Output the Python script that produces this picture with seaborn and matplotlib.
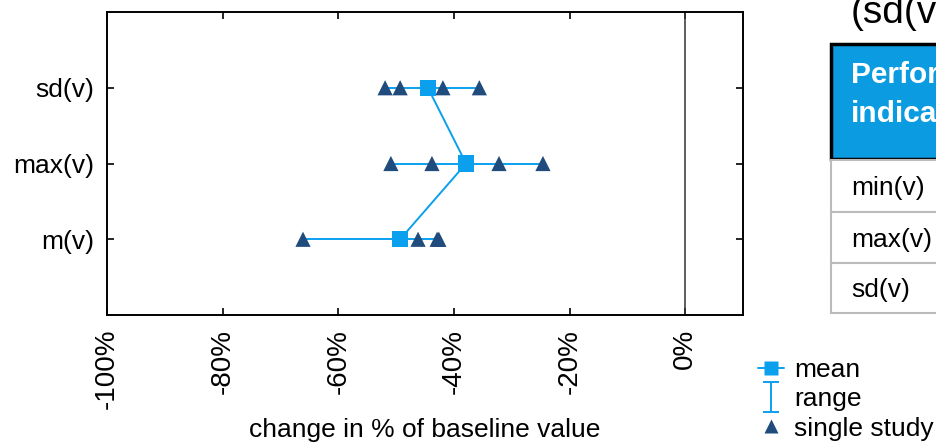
import numpy as np
import pandas as pd
import matplotlib
matplotlib.use("Agg")
import matplotlib.pyplot as plt
from matplotlib.lines import Line2D
from matplotlib.patches import Rectangle
from matplotlib.path import Path
import seaborn as sns

# data (change in % of baseline)
indicators = ["m(v)", "max(v)", "sd(v)"]
ypos = [1, 2, 3]
mean_vals = [-49.3, -37.9, -44.5]
range_min = [-66.1, -50.9, -51.9]
range_max = [-42.6, -24.6, -35.6]
study_m = [-66.1, -46.2, -42.9, -42.6]
study_max = [-50.9, -43.8, -32.2, -24.6]
study_sd = [-51.9, -49.3, -41.9, -35.6]
xticks = [-100, -80, -60, -40, -20, 0]
table_rows = ["min(v)", "max(v)", "sd(v)"]

light_blue = "#0aa0ee"
navy = "#1f4b7d"

sns.set_theme(style="ticks")
plt.rcParams["font.family"] = ["Liberation Sans", "DejaVu Sans"]

studies = pd.DataFrame({
    "change": study_m + study_max + study_sd,
    "pos": [1] * 4 + [2] * 4 + [3] * 4,
})
means = pd.DataFrame({"change": mean_vals, "pos": ypos})

fig = plt.figure(figsize=(9.36, 4.48), dpi=100)
ax = fig.add_axes([107 / 936, 1 - 315 / 448, 636 / 936, 303 / 448])

ax.axvline(0, color="#333333", lw=1.1, zorder=1)

# range bars
xerr = [np.array(mean_vals) - np.array(range_min),
        np.array(range_max) - np.array(mean_vals)]
ax.errorbar(mean_vals, ypos, xerr=xerr, fmt="none", ecolor=light_blue,
            elinewidth=1.4, capsize=3, capthick=1.4, zorder=2)

# line through the means (sd -> max -> m)
order = means.sort_values("pos", ascending=False)
sns.lineplot(data=order, x="change", y="pos", sort=False, color=light_blue,
             lw=1.4, ax=ax, zorder=3)

sns.scatterplot(data=studies, x="change", y="pos", marker="^", s=120,
                color=navy, edgecolor="none", ax=ax, zorder=4)
sns.scatterplot(data=means, x="change", y="pos", marker="s", s=140,
                color=light_blue, edgecolor="none", ax=ax, zorder=5)

ax.set_xlim(-100, 10)
ax.set_ylim(0, 4)
ax.set_xticks(xticks)
ax.set_xticklabels([f"{t}%" for t in xticks], rotation=90, fontsize=20)
ax.set_yticks(ypos)
ax.set_yticklabels(indicators, fontsize=19)
ax.tick_params(direction="in", length=5, width=1.2, top=True, right=True,
               color="black", labelcolor="black")
ax.tick_params(axis="y", pad=9)
ax.tick_params(axis="x", pad=10)
ax.set_xlabel("change in % of baseline value", fontsize=19, labelpad=6,
              color="black")
ax.set_ylabel("")
for sp in ax.spines.values():
    sp.set_color("black")
    sp.set_linewidth(1.4)

# legend
range_marker = Path([(-0.5, 1), (0.5, 1), (0, 1), (0, -1), (-0.5, -1), (0.5, -1)],
                    [Path.MOVETO, Path.LINETO, Path.MOVETO, Path.LINETO,
                     Path.MOVETO, Path.LINETO])
handles = [
    Line2D([], [], color=light_blue, marker="s", markersize=10, lw=1.4,
           markeredgecolor="none"),
    Line2D([], [], color=light_blue, marker=range_marker, markersize=22,
           linestyle="none", markeredgewidth=1.4, fillstyle="none"),
    Line2D([], [], color=navy, marker="^", markersize=10, linestyle="none",
           markeredgecolor="none"),
]
fig.legend(handles, ["mean", "range", "single study"], loc="upper left",
           bbox_to_anchor=(758 / 936, 1 - 358 / 448), frameon=False,
           fontsize=19, handlelength=1.0, handletextpad=0.37,
           labelspacing=0.2, borderpad=0, borderaxespad=0, labelcolor="black")

# cut-off table on the right side of the slide
tab = fig.add_axes([0, 0, 1, 1], zorder=-1)
tab.set_xlim(0, 936)
tab.set_ylim(448, 0)
tab.axis("off")
tab.text(851, 13, "(sd(v))", fontsize=28, va="center", ha="left", color="black")
tab.add_patch(Rectangle((831, 44), 200, 115, facecolor="#0a9be0",
                        edgecolor="black", lw=2.5))
tab.text(851, 75, "Performance", fontsize=21.5, fontweight="bold",
         color="white", va="center", ha="left")
tab.text(851, 114, "indicator", fontsize=21.5, fontweight="bold",
         color="white", va="center", ha="left")
row_top = [160, 212, 263]
row_h = [52, 51, 50]
for lbl, top, h in zip(table_rows, row_top, row_h):
    tab.add_patch(Rectangle((831, top), 200, h, facecolor="white",
                            edgecolor="#bbbbbb", lw=1.5))
    tab.text(851, top + h / 2 + 2, lbl, fontsize=19, va="center", ha="left",
             color="black")

fig.savefig("out.png", dpi=100)
